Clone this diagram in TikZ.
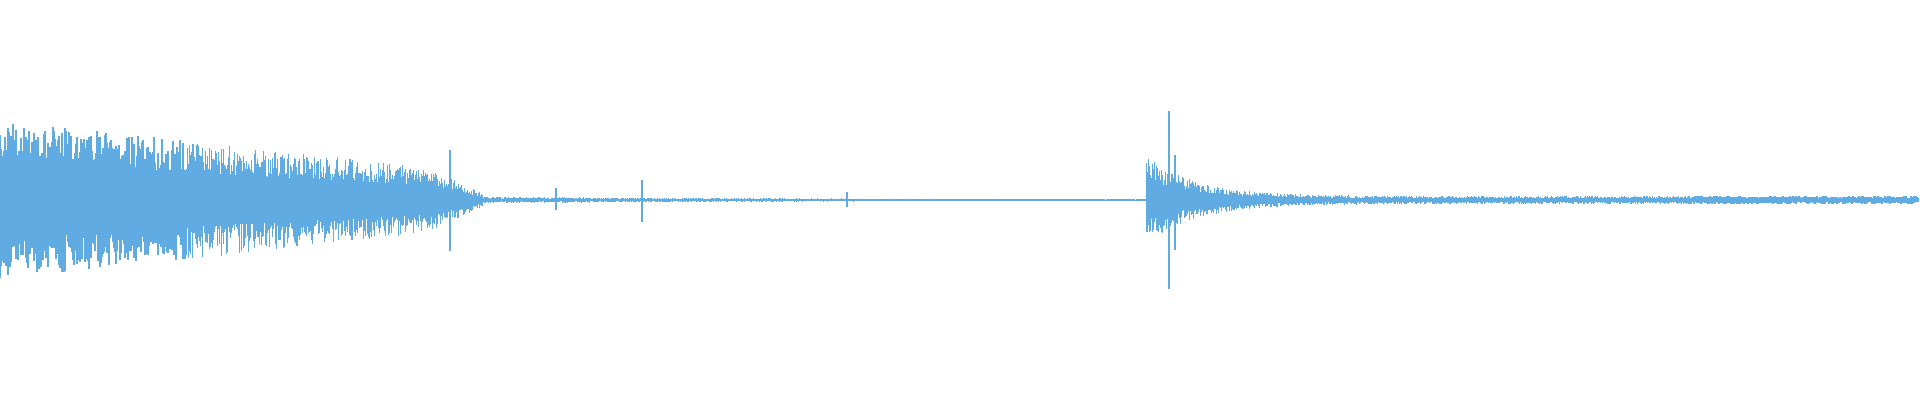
\documentclass[tikz,border=0pt]{standalone}
\usepackage{tikz}
\definecolor{wavecol}{RGB}{96,172,226}
\tikzset{wave/.style={wavecol, line width=0.012cm}}
\begin{document}
\begin{tikzpicture}
  \useasboundingbox (0,0) rectangle (19.2,4);
  \pgfmathsetseed{11}
  % samples, one per pixel column
  \foreach \i in {0,...,1919}{
    \ifnum\i<430
      \pgfmathsetmacro\env{80-0.11*\i}
    \else\ifnum\i<484
      \pgfmathsetmacro\env{33-0.5*(\i-430)}
    \else\ifnum\i<1147
      \pgfmathsetmacro\env{2.5*exp(-(\i-484)/300)+0.8}
    \else
      \pgfmathsetmacro\env{4+40*exp(-(\i-1147)/50)}
    \fi\fi\fi
    \pgfmathsetmacro\up{\env*(0.45+0.55*rnd)}
    \pgfmathsetmacro\dn{\env*(0.45+0.55*rnd)}
    \draw[wave] (\i*0.01,2+\up*0.01) -- (\i*0.01,2-\dn*0.01);
  }
  % isolated peaks
  \draw[wave] (4.50,2.50) -- (4.50,1.49);
  \draw[wave] (5.56,2.12) -- (5.56,1.90);
  \draw[wave] (6.42,2.20) -- (6.42,1.78);
  \draw[wave] (8.47,2.08) -- (8.47,1.93);
  \draw[wave] (11.69,2.89) -- (11.69,1.11);
  \draw[wave] (11.75,2.45) -- (11.75,1.50);
\end{tikzpicture}
\end{document}
